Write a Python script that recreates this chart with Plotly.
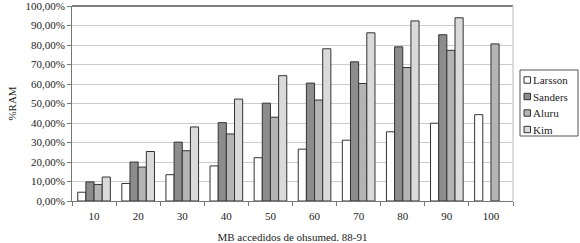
import plotly.graph_objects as go

categories = ["10", "20", "30", "40", "50", "60", "70", "80", "90", "100"]
larsson = [4.5, 9.0, 13.5, 18.0, 22.2, 26.6, 31.2, 35.5, 39.9, 44.3]
sanders = [9.8, 20.0, 30.2, 40.2, 50.2, 60.5, 71.4, 79.1, 85.3, None]
aluru = [8.5, 17.4, 25.8, 34.4, 43.0, 51.8, 60.3, 68.5, 77.3, 80.6]
kim = [12.3, 25.4, 38.0, 52.3, 64.3, 78.1, 86.3, 92.4, 94.0, None]
y_ticks = [0, 10, 20, 30, 40, 50, 60, 70, 80, 90, 100]
y_tick_labels = ["0,00%", "10,00%", "20,00%", "30,00%", "40,00%", "50,00%",
                 "60,00%", "70,00%", "80,00%", "90,00%", "100,00%"]

series = [("Larsson", larsson, "#ffffff"),
          ("Sanders", sanders, "#8c8c8c"),
          ("Aluru", aluru, "#b4b4b4"),
          ("Kim", kim, "#dadada")]

W, H = 580, 243
ML, MR, MT, MB = 72, 67, 6, 42
PW, PH = W - ML - MR, H - MT - MB


def px(x):
    return (x - ML) / PW


def py(y):
    return (H - MB - y) / PH


font = "Liberation Serif, DejaVu Serif, serif"
fig = go.Figure()
for name, vals, col in series:
    fig.add_trace(go.Bar(x=categories, y=vals, name=name, showlegend=False,
                         hoverinfo="skip",
                         marker=dict(color=col, line=dict(color="#333333", width=1))))

fig.update_layout(
    width=W, height=H,
    margin=dict(l=ML, r=MR, t=MT, b=MB, autoexpand=False),
    paper_bgcolor="white", plot_bgcolor="white",
    barmode="group", bargap=0.26, bargroupgap=0,
    font=dict(family=font, size=11, color="#222222"),
    showlegend=False,
)
fig.update_xaxes(
    title=dict(text="MB accedidos de ohsumed. 88-91", font=dict(size=11), standoff=12),
    showline=True, linecolor="#777777", linewidth=1,
    ticks="outside", tickson="boundaries", ticklen=4, tickcolor="#777777",
    ticklabelstandoff=5,
    showgrid=False, automargin=False,
)
fig.update_yaxes(
    title=dict(text="%RAM", font=dict(size=11), standoff=6),
    range=[0, 100.05], tickvals=y_ticks, ticktext=y_tick_labels,
    ticklabeloverflow="allow",
    showline=True, linecolor="#777777", linewidth=1,
    ticks="outside", ticklen=4, tickcolor="#777777",
    showgrid=True, gridcolor="#cccccc", gridwidth=1,
    zeroline=False, automargin=False,
)
# plot frame: top dark line and right light line
fig.add_shape(type="line", xref="paper", yref="paper", x0=0, x1=1, y0=1, y1=1,
              line=dict(color="#808080", width=2))
fig.add_shape(type="line", xref="paper", yref="paper", x0=1, x1=1, y0=0, y1=1,
              line=dict(color="#d0d0d0", width=1.5))

# custom legend
fig.add_shape(type="rect", xref="paper", yref="paper",
              x0=px(520), x1=px(578), y0=py(136), y1=py(70),
              line=dict(color="#555555", width=1), fillcolor="white")
item_y = [80, 96.5, 113, 129.5]
for (name, _, col), yy in zip(series, item_y):
    fig.add_shape(type="rect", xref="paper", yref="paper",
                  x0=px(524), x1=px(530.5), y0=py(yy + 3.2), y1=py(yy - 3.2),
                  line=dict(color="#333333", width=1), fillcolor=col)
    fig.add_annotation(xref="paper", yref="paper", x=px(531), y=py(yy),
                       xanchor="left", yanchor="middle", text=name,
                       showarrow=False, font=dict(size=11, family=font))

fig.write_html("out.html", config={"displayModeBar": False})
with open("out.html", "r", encoding="utf-8") as f:
    html = f.read()
html = html.replace("<body>", '<body style="margin:0;padding:0;overflow:hidden">', 1)
html = html.replace("<head>", "<head><style>html,body{margin:0;padding:0;}</style>", 1)
with open("out.html", "w", encoding="utf-8") as f:
    f.write(html)
